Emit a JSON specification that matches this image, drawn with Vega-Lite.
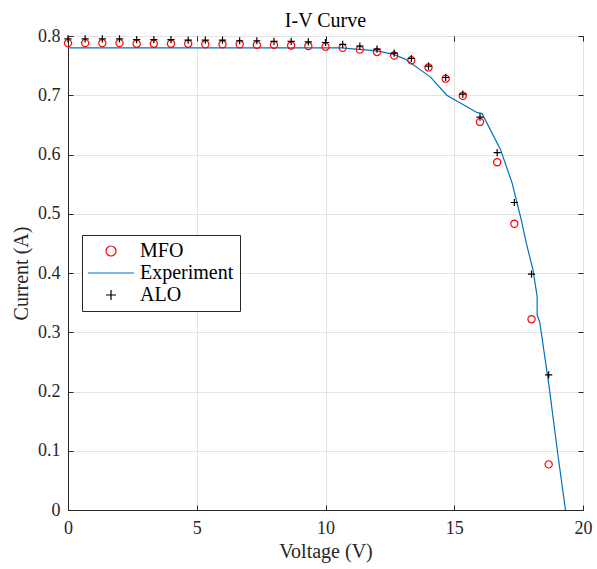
{
  "$schema": "https://vega.github.io/schema/vega-lite/v6.json",
  "width": 515,
  "height": 474,
  "autosize": {"type": "none"},
  "padding": {"left": 68, "top": 36, "right": 14, "bottom": 59},
  "background": "white",
  "title": {"text": "I-V Curve", "font": "Liberation Serif", "fontSize": 20, "fontWeight": "normal", "color": "#000000", "offset": 8, "dy": 12},
  "config": {
    "view": {"stroke": "#262626", "strokeWidth": 1},
    "legend": {
      "orient": "none", "legendX": 14, "legendY": 199,
      "strokeColor": "#262626", "fillColor": "white", "padding": 6,
      "labelFont": "Liberation Serif", "labelFontSize": 20, "labelColor": "#000000",
      "symbolOffset": 13, "labelOffset": 19, "rowPadding": 2, "symbolStrokeWidth": 1.2
    }
  },
  "datasets": {
    "pts": [
      {"V": 0.0, "I": 0.788, "series": "MFO"},
      {"V": 0.6667, "I": 0.788, "series": "MFO"},
      {"V": 1.3333, "I": 0.788, "series": "MFO"},
      {"V": 2.0, "I": 0.788, "series": "MFO"},
      {"V": 2.6667, "I": 0.787, "series": "MFO"},
      {"V": 3.3333, "I": 0.787, "series": "MFO"},
      {"V": 4.0, "I": 0.787, "series": "MFO"},
      {"V": 4.6667, "I": 0.787, "series": "MFO"},
      {"V": 5.3333, "I": 0.786, "series": "MFO"},
      {"V": 6.0, "I": 0.786, "series": "MFO"},
      {"V": 6.6667, "I": 0.786, "series": "MFO"},
      {"V": 7.3333, "I": 0.785, "series": "MFO"},
      {"V": 8.0, "I": 0.785, "series": "MFO"},
      {"V": 8.6667, "I": 0.784, "series": "MFO"},
      {"V": 9.3333, "I": 0.783, "series": "MFO"},
      {"V": 10.0, "I": 0.782, "series": "MFO"},
      {"V": 10.6667, "I": 0.780, "series": "MFO"},
      {"V": 11.3333, "I": 0.777, "series": "MFO"},
      {"V": 12.0, "I": 0.773, "series": "MFO"},
      {"V": 12.6667, "I": 0.767, "series": "MFO"},
      {"V": 13.3333, "I": 0.759, "series": "MFO"},
      {"V": 14.0, "I": 0.747, "series": "MFO"},
      {"V": 14.6667, "I": 0.728, "series": "MFO"},
      {"V": 15.3333, "I": 0.699, "series": "MFO"},
      {"V": 16.0, "I": 0.655, "series": "MFO"},
      {"V": 16.6667, "I": 0.587, "series": "MFO"},
      {"V": 17.3333, "I": 0.483, "series": "MFO"},
      {"V": 18.0, "I": 0.322, "series": "MFO"},
      {"V": 18.6667, "I": 0.077, "series": "MFO"},
      {"V": 0.0, "I": 0.795, "series": "ALO"},
      {"V": 0.6667, "I": 0.795, "series": "ALO"},
      {"V": 1.3333, "I": 0.795, "series": "ALO"},
      {"V": 2.0, "I": 0.795, "series": "ALO"},
      {"V": 2.6667, "I": 0.794, "series": "ALO"},
      {"V": 3.3333, "I": 0.794, "series": "ALO"},
      {"V": 4.0, "I": 0.794, "series": "ALO"},
      {"V": 4.6667, "I": 0.793, "series": "ALO"},
      {"V": 5.3333, "I": 0.793, "series": "ALO"},
      {"V": 6.0, "I": 0.793, "series": "ALO"},
      {"V": 6.6667, "I": 0.792, "series": "ALO"},
      {"V": 7.3333, "I": 0.792, "series": "ALO"},
      {"V": 8.0, "I": 0.791, "series": "ALO"},
      {"V": 8.6667, "I": 0.791, "series": "ALO"},
      {"V": 9.3333, "I": 0.790, "series": "ALO"},
      {"V": 10.0, "I": 0.789, "series": "ALO"},
      {"V": 10.6667, "I": 0.786, "series": "ALO"},
      {"V": 11.3333, "I": 0.783, "series": "ALO"},
      {"V": 12.0, "I": 0.778, "series": "ALO"},
      {"V": 12.6667, "I": 0.771, "series": "ALO"},
      {"V": 13.3333, "I": 0.762, "series": "ALO"},
      {"V": 14.0, "I": 0.749, "series": "ALO"},
      {"V": 14.6667, "I": 0.730, "series": "ALO"},
      {"V": 15.3333, "I": 0.702, "series": "ALO"},
      {"V": 16.0, "I": 0.663, "series": "ALO"},
      {"V": 16.6667, "I": 0.603, "series": "ALO"},
      {"V": 17.3333, "I": 0.519, "series": "ALO"},
      {"V": 18.0, "I": 0.398, "series": "ALO"},
      {"V": 18.6667, "I": 0.228, "series": "ALO"}
    ],
    "exp": [
      {"i": 0, "V": 0.0, "I": 0.780},
      {"i": 1, "V": 10.6, "I": 0.780},
      {"i": 2, "V": 12.0, "I": 0.775},
      {"i": 3, "V": 12.64, "I": 0.769},
      {"i": 4, "V": 13.09, "I": 0.761},
      {"i": 5, "V": 14.07, "I": 0.731},
      {"i": 6, "V": 14.71, "I": 0.700},
      {"i": 7, "V": 15.88, "I": 0.671},
      {"i": 8, "V": 16.08, "I": 0.669},
      {"i": 9, "V": 16.79, "I": 0.609},
      {"i": 10, "V": 17.24, "I": 0.553},
      {"i": 11, "V": 17.59, "I": 0.492},
      {"i": 12, "V": 17.8, "I": 0.45},
      {"i": 13, "V": 18.06, "I": 0.405},
      {"i": 14, "V": 18.22, "I": 0.36},
      {"i": 15, "V": 18.22, "I": 0.329},
      {"i": 16, "V": 18.32, "I": 0.317},
      {"i": 17, "V": 18.67, "I": 0.213},
      {"i": 18, "V": 19.02, "I": 0.095},
      {"i": 19, "V": 19.32, "I": 0.0}
    ]
  },
  "resolve": {"scale": {"x": "shared", "y": "shared"}, "axis": {"x": "independent", "y": "independent"}},
  "layer": [
    {
      "data": {"name": "exp"},
      "mark": {"type": "line", "color": "#0072BD", "strokeWidth": 1.2, "clip": true},
      "encoding": {
        "x": {"field": "V", "type": "quantitative", "scale": {"domain": [0, 20], "nice": false},
          "axis": {"orient": "top", "values": [0, 5, 10, 15, 20], "labels": false, "title": null, "grid": false, "domain": false, "tickSize": -5, "tickColor": "#262626", "minExtent": 0, "maxExtent": 0, "offset": 0}},
        "y": {"field": "I", "type": "quantitative", "scale": {"domain": [0, 0.8], "nice": false},
          "axis": {"orient": "right", "values": [0, 0.1, 0.2, 0.3, 0.4, 0.5, 0.6, 0.7, 0.8], "labels": false, "title": null, "grid": false, "domain": false, "tickSize": -5, "tickColor": "#262626", "minExtent": 0, "maxExtent": 0}},
        "order": {"field": "i", "type": "quantitative"}
      }
    },
    {
      "data": {"name": "pts"},
      "mark": {"type": "point", "filled": false, "strokeWidth": 1.2, "size": 52, "opacity": 1},
      "encoding": {
        "x": {"field": "V", "type": "quantitative", "scale": {"domain": [0, 20], "nice": false},
          "axis": {"orient": "bottom", "values": [0, 5, 10, 15, 20], "title": "Voltage (V)", "grid": true, "gridColor": "#e3e3e3", "gridWidth": 1,
            "domainColor": "#262626", "tickColor": "#262626", "tickSize": -5, "labelPadding": 14, "labelFlush": false,
            "labelFont": "Liberation Serif", "labelFontSize": 18, "labelColor": "#262626",
            "titleFont": "Liberation Serif", "titleFontSize": 20, "titleFontWeight": "normal", "titleColor": "#262626", "titlePadding": 4}},
        "y": {"field": "I", "type": "quantitative", "scale": {"domain": [0, 0.8], "nice": false},
          "axis": {"orient": "left", "values": [0, 0.1, 0.2, 0.3, 0.4, 0.5, 0.6, 0.7, 0.8], "format": "~g", "title": "Current (A)", "grid": true, "gridColor": "#e3e3e3", "gridWidth": 1,
            "domainColor": "#262626", "tickColor": "#262626", "tickSize": -5, "labelPadding": 13, "labelFlush": false,
            "labelFont": "Liberation Serif", "labelFontSize": 18, "labelColor": "#262626",
            "titleFont": "Liberation Serif", "titleFontSize": 20, "titleFontWeight": "normal", "titleColor": "#262626", "titlePadding": 6}},
        "shape": {"field": "series", "type": "nominal",
          "scale": {"domain": ["MFO", "Experiment", "ALO"], "range": ["circle", "M-4.6,0H4.6", "M-1,0H1M0,-1V1"]},
          "legend": {"title": null}},
        "color": {"field": "series", "type": "nominal",
          "scale": {"domain": ["MFO", "Experiment", "ALO"], "range": ["#FF0000", "#0072BD", "#000000"]},
          "legend": {"title": null}}
      }
    }
  ]
}
